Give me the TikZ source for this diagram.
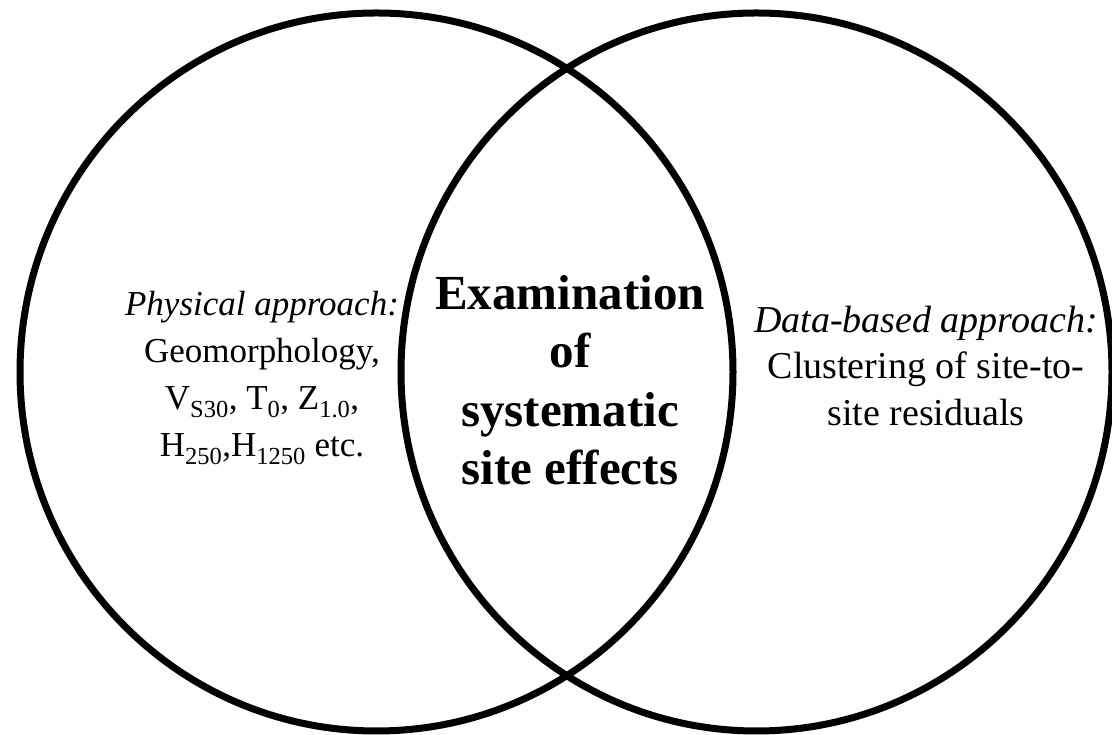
\documentclass[tikz,border=0pt]{standalone}
\usepackage{fontspec}
\setmainfont{Liberation Serif}
\usepackage{tikz}
\usetikzlibrary{positioning,calc}
\tikzset{
  ring/.style={line width=7pt, draw=black},
  side/.style={align=center, inner sep=0pt, font=\fontsize{35}{47}\selectfont},
  core/.style={align=center, inner sep=0pt, font=\bfseries\fontsize{49}{58.5}\selectfont},
}

\begin{document}
\begin{tikzpicture}[x=1pt, y=1pt]
  \useasboundingbox (0,0) rectangle (1112,735);
  \coordinate (lc) at (376.5,363);
  \coordinate (rc) at (756.5,363);
  \draw[ring] (lc) ellipse [x radius=356.5, y radius=359];
  \draw[ring] (rc) ellipse [x radius=355.5, y radius=359];
  \node[side] (phys) at (262,357) {\textit{Physical approach:}\\Geomorphology,\\
    V\textsubscript{S30}, T\textsubscript{0}, Z\textsubscript{1.0},\\
    H\textsubscript{250},H\textsubscript{1250} etc.};
  \node[core] (exam) at (570,355) {Examination\\of\\systematic\\site effects};
  \node[side, font=\fontsize{38}{46.5}\selectfont] (data) at (926,369)
    {\textit{Data-based approach:}\\Clustering of site-to-\\site residuals};
\end{tikzpicture}
\end{document}
